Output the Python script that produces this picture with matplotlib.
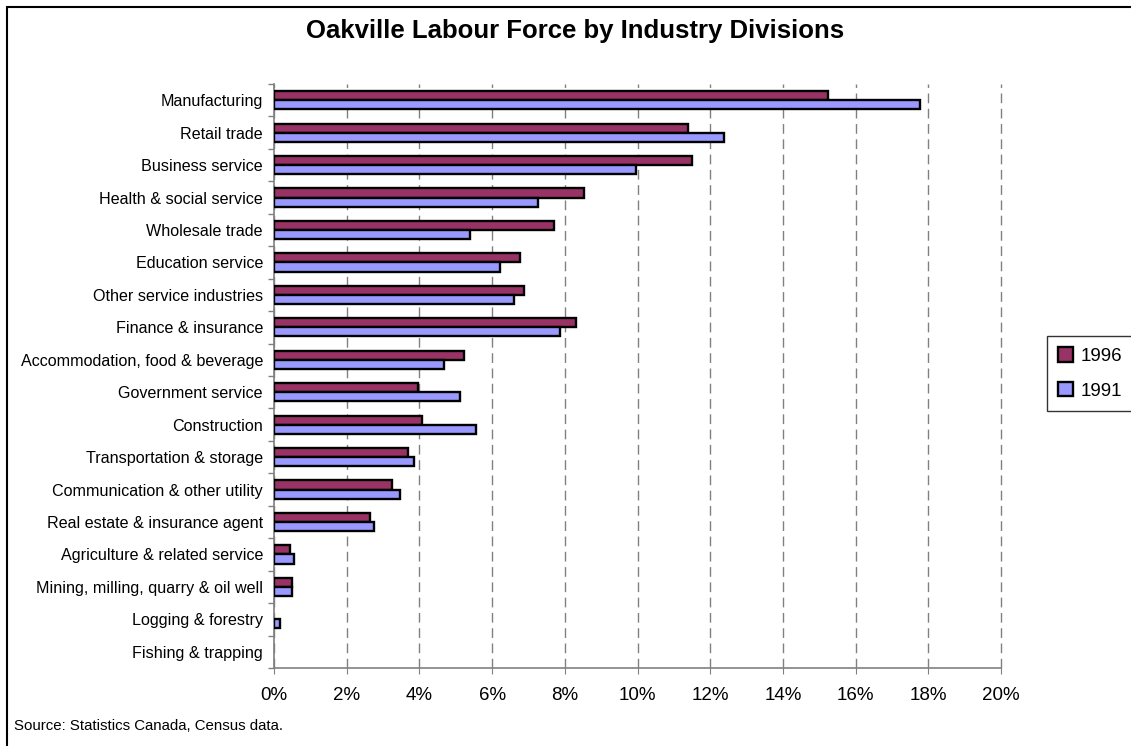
"""Oakville labour force by industry division, census 1991 vs 1996."""
import matplotlib

matplotlib.use("Agg")
from matplotlib import pyplot as plt
from matplotlib.patches import Rectangle
from matplotlib.ticker import FuncFormatter, MultipleLocator
import numpy as np

plt.rcParams["font.family"] = ["Liberation Sans", "DejaVu Sans"]

industries = [
    "Manufacturing", "Retail trade", "Business service",
    "Health & social service", "Wholesale trade", "Education service",
    "Other service industries", "Finance & insurance",
    "Accommodation, food & beverage", "Government service", "Construction",
    "Transportation & storage", "Communication & other utility",
    "Real estate & insurance agent", "Agriculture & related service",
    "Mining, milling, quarry & oil well", "Logging & forestry",
    "Fishing & trapping",
]
share_1996 = [15.25, 11.40, 11.51, 8.53, 7.71, 6.77, 6.88, 8.31, 5.23, 3.96,
              4.07, 3.69, 3.25, 2.64, 0.44, 0.50, 0.0, 0.0]
share_1991 = [17.78, 12.38, 9.96, 7.27, 5.39, 6.22, 6.61, 7.87, 4.68, 5.12,
              5.56, 3.85, 3.47, 2.75, 0.55, 0.50, 0.17, 0.0]

C96, C91, AXIS = "#993366", "#9999ff", "#808080"

fig = plt.figure(figsize=(11.31, 7.46), dpi=100, facecolor="white")
ax = fig.add_axes([274 / 1131, 1 - 668 / 746, 727 / 1131, 584 / 746])

y = np.arange(len(industries))
h = 0.28


def edge_widths(vals):
    # empty categories get no outline sliver
    return [1.7 if v > 0 else 0 for v in vals]


ax.barh(y - h / 2, share_1996, height=h, color=C96, edgecolor="black",
        linewidth=edge_widths(share_1996), label="1996", zorder=3)
ax.barh(y + h / 2, share_1991, height=h, color=C91, edgecolor="black",
        linewidth=edge_widths(share_1991), label="1991", zorder=3)

ax.set_xlim(0, 20)
ax.set_ylim(len(industries) - 0.5, -0.5)
ax.xaxis.set_major_locator(MultipleLocator(2))
ax.xaxis.set_major_formatter(FuncFormatter(lambda v, _: f"{v:.0f}%"))
ax.tick_params(axis="x", labelsize=13.5, length=4, color=AXIS, pad=10)
ax.grid(axis="x", color=AXIS, lw=1, ls=(0, (7, 4)), zorder=0)
for g in ax.get_xgridlines():
    g.set_clip_on(False)

# category labels sit between boundary ticks
ax.set_yticks(y)
ax.set_yticklabels(industries, fontsize=11.6)
ax.tick_params(axis="y", length=0, pad=8)
ax.set_yticks(np.arange(len(industries) + 1) - 0.5, minor=True)
ax.tick_params(axis="y", which="minor", length=4, color=AXIS, width=1)

for s in ("top", "right"):
    ax.spines[s].set_visible(False)
for s in ("left", "bottom"):
    ax.spines[s].set_color(AXIS)
    ax.spines[s].set_linewidth(1.2)

leg = fig.legend(loc="upper left",
                 bbox_to_anchor=(1047 / 1131, 1 - 336 / 746, 100 / 1131, 0),
                 mode="expand", fontsize=13.5, frameon=True, fancybox=False,
                 edgecolor="black", handlelength=0.8, handleheight=0.8,
                 handletextpad=0.4, borderpad=0.6, labelspacing=0.9,
                 borderaxespad=0)
leg.get_frame().set_linewidth(1)

fig.text(575 / 1131, 1 - 31 / 746, "Oakville Labour Force by Industry Divisions",
         ha="center", va="center", fontsize=18.5, fontweight="bold")
fig.text(14 / 1131, 1 - 726 / 746, "Source: Statistics Canada, Census data.",
         ha="left", va="center", fontsize=10.8)

# outer chart border, running off the right and bottom edges
fig.patches.append(Rectangle((7 / 1131, -0.1), 1.2, 1 - 7 / 746 + 0.1,
                             transform=fig.transFigure, fill=False,
                             edgecolor="black", lw=1.5))

fig.savefig("out.png", dpi=100, facecolor="white")
